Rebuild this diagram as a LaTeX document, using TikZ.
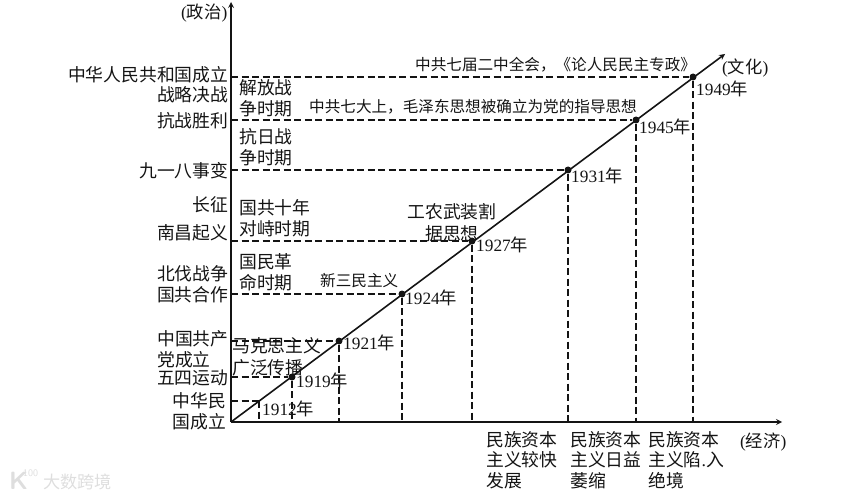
\documentclass[tikz,border=0pt]{standalone}
\usepackage{fontspec}
\setmainfont{Liberation Serif}
\newfontfamily\cjk{Noto Sans CJK SC}
\definecolor{InkBlack}{RGB}{20, 20, 20}
\definecolor{MarkGray}{RGB}{222, 222, 222}
\newcommand{\nian}{{\cjk 年}}

\begin{document}
\begin{tikzpicture}[
        x=1pt, y=-1pt,
        axisline/.style={->, >=stealth, line width=1.6pt, InkBlack},
        guide/.style={line width=1.3pt, InkBlack, dash pattern=on 7pt off 3.5pt},
        dot/.style={circle, fill=InkBlack, minimum size=7pt, inner sep=0pt},
        sidelab/.style={anchor=east, inner sep=0pt, text=InkBlack, align=right, font=\fontsize{17.8}{21.5}\selectfont\cjk},
        era/.style={anchor=west, inner sep=0pt, text=InkBlack, align=left, font=\fontsize{17.8}{21.5}\selectfont\cjk},
        yearlab/.style={anchor=west, inner sep=0pt, text=InkBlack, font=\fontsize{17.3}{20}\selectfont},
        axlab/.style={anchor=west, inner sep=0pt, text=InkBlack, font=\fontsize{17.3}{20}\selectfont},
        econ/.style={anchor=north west, inner sep=0pt, text=InkBlack, align=left, font=\fontsize{17.8}{20.5}\selectfont\cjk}
    ]
        \useasboundingbox (0, 0) rectangle (856, 497);
        
        % Axes
        \coordinate (origin) at (231, 422);
        \coordinate (ytip) at (231, 2);
        \coordinate (xtip) at (782, 422);
        \coordinate (ctip) at (725, 54);
        \coordinate (p1912) at (259, 401);
        
        % Points on the diagonal
        \node[dot] (p1919) at (292, 377) {};
        \node[dot] (p1921) at (339, 341) {};
        \node[dot] (p1924) at (402, 294) {};
        \node[dot] (p1927) at (472, 241) {};
        \node[dot] (p1931) at (568, 170) {};
        \node[dot] (p1945) at (636, 120) {};
        \node[dot] (p1949) at (693, 77) {};
        
        % Guides
        \draw[guide] (origin |- p1912) -- (p1912);
        \draw[guide] (origin |- p1919) -- (p1919);
        \draw[guide] (origin |- p1921) -- (p1921);
        \draw[guide] (origin |- p1924) -- (p1924);
        \draw[guide] (origin |- p1927) -- (p1927);
        \draw[guide] (origin |- p1931) -- (p1931);
        \draw[guide] (origin |- p1945) -- (p1945);
        \draw[guide] (origin |- p1949) -- (p1949);
        \draw[guide] (p1912) -- (p1912 |- origin);
        \draw[guide] (p1919) -- (p1919 |- origin);
        \draw[guide] (p1921) -- (p1921 |- origin);
        \draw[guide] (p1924) -- (p1924 |- origin);
        \draw[guide] (p1927) -- (p1927 |- origin);
        \draw[guide] (p1931) -- (p1931 |- origin);
        \draw[guide] (p1945) -- (p1945 |- origin);
        \draw[guide] (p1949) -- (p1949 |- origin);
        
        \draw[axisline] (origin) -- (ytip);
        \draw[axisline] (origin) -- (xtip);
        \draw[axisline] (origin) -- (ctip);
        
        % Axis names
        \node[axlab] (axpol) at (181, 13) {(\cjk 政治\rmfamily)};
        \node[axlab] (axcul) at (722, 68) {(\cjk 文化\rmfamily)};
        \node[axlab] (axeco) at (740, 442) {(\cjk 经济\rmfamily)};
        
        % Events on the left
        \node[sidelab] (prc) at (228.5, 75) {中华人民共和国成立};
        \node[sidelab] (decisive) at (228.5, 95) {战略决战};
        \node[sidelab] (victory) at (228.5, 121) {抗战胜利};
        \node[sidelab] (sept18) at (228.5, 171) {九一八事变};
        \node[sidelab] (march) at (228.5, 205) {长征};
        \node[sidelab] (nanchang) at (228.5, 233) {南昌起义};
        \node[sidelab] (northern) at (228.5, 274) {北伐战争};
        \node[sidelab] (united) at (228.5, 295) {国共合作};
        \node[sidelab, anchor=west, align=left] (cpc) at (157, 349.5) {中国共产\\党成立};
        \node[sidelab] (mayfourth) at (228.5, 378) {五四运动};
        \node[sidelab] (roc) at (226, 411.5) {中华民\\国成立};
        
        % Periods
        \node[era] (liberation) at (239, 98.5) {解放战\\争时期};
        \node[era] (antijapan) at (239, 147) {抗日战\\争时期};
        \node[era] (tenyears) at (239, 218) {国共十年\\对峙时期};
        \node[era] (revolution) at (239, 272.5) {国民革\\命时期};
        
        % Ideas
        \node[era] (marxism) at (232, 357) {马克思主义\\广泛传播};
        \node[era, font=\fontsize{15.6}{20}\selectfont\cjk] (threeprin) at (320, 281) {新三民主义};
        \node[era, align=center, anchor=center] (workers) at (452, 222.5) {工农武装割\\据思想};
        \node[era, font=\fontsize{15.6}{20}\selectfont\cjk] (seventh) at (309, 107) {中共七大上，毛泽东思想被确立为党的指导思想};
        \node[era, font=\fontsize{15.6}{20}\selectfont\cjk] (plenum) at (415, 65) {中共七届二中全会，《论人民民主专政》};
        
        % Years
        \node[yearlab] (y1912) at (262, 409) {1912\nian};
        \node[yearlab] (y1919) at (296, 381) {1919\nian};
        \node[yearlab] (y1921) at (343, 343) {1921\nian};
        \node[yearlab] (y1924) at (405, 298) {1924\nian};
        \node[yearlab] (y1927) at (476, 245) {1927\nian};
        \node[yearlab] (y1931) at (571, 176) {1931\nian};
        \node[yearlab] (y1945) at (639, 127) {1945\nian};
        \node[yearlab] (y1949) at (696, 89) {1949\nian};
        
        % Economy below the axis
        \node[econ] (econa) at (486, 431) {民族资本\\主义较快\\发展};
        \node[econ] (econb) at (570, 431) {民族资本\\主义日益\\萎缩};
        \node[econ] (econc) at (648, 431) {民族资本\\主义陷\rmfamily.\cjk 入\\绝境};
        
        % Watermark
        \node[anchor=west, inner sep=0pt, text=MarkGray, font=\fontsize{25}{25}\selectfont\bfseries\sffamily] (markk) at (9, 481) {K};
        \node[anchor=west, inner sep=0pt, text=MarkGray, font=\fontsize{10}{10}\selectfont\sffamily] (markn) at (23, 473) {100};
        \node[anchor=west, inner sep=0pt, text=MarkGray, font=\fontsize{17.2}{17}\selectfont\cjk] (markt) at (43, 482) {大数跨境};
    \end{tikzpicture}
\end{document}
